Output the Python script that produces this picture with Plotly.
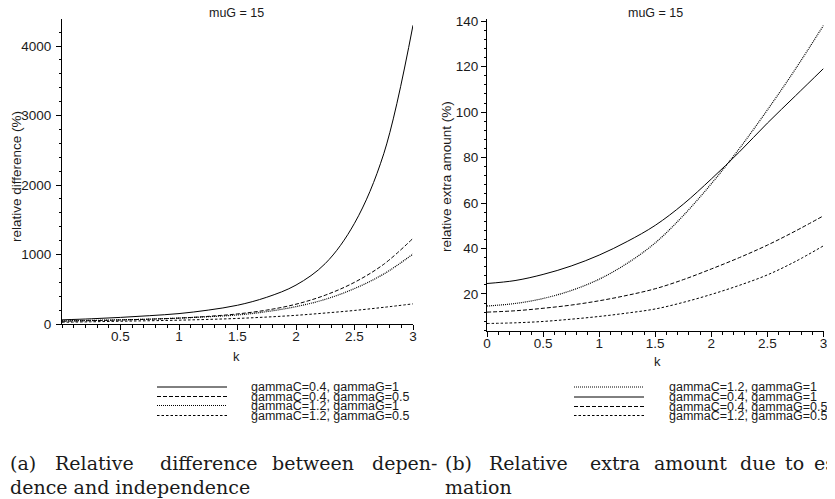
import plotly.graph_objects as go

# the page body keeps an 8px margin, so the figure is shrunk to fit the window
OFF = 8
W, H = 835 - OFF, 499 - OFF

k_grid = [0, 0.25, 0.5, 0.75, 1, 1.25, 1.5, 1.75, 2, 2.25, 2.5, 2.75, 3]

# left panel: relative difference between dependence and independence (%)
diff_c04_g1 = [60, 75, 95, 120, 150, 200, 270, 385, 560, 870, 1450, 2450, 4300]
diff_c04_g05 = [40, 48, 58, 70, 85, 110, 145, 200, 285, 415, 600, 860, 1233]
diff_c12_g1 = [45, 52, 60, 70, 85, 105, 130, 178, 250, 355, 510, 720, 1007]
diff_c12_g05 = [25, 32, 40, 47, 55, 66, 80, 100, 125, 158, 195, 240, 290]

# right panel: relative extra amount due to estimation (%)
extra_c12_g1 = [14.7, 15.8, 18.0, 21.5, 26.5, 33.5, 42.5, 54.5, 68.5, 84.0, 101.0, 119.0, 138.2]
extra_c04_g1 = [24.6, 25.9, 28.6, 32.3, 37.1, 43.1, 50.2, 59.5, 70.6, 82.5, 95.2, 107.2, 119.2]
extra_c04_g05 = [12.0, 12.6, 13.7, 15.1, 17.0, 19.4, 22.3, 26.3, 31.0, 36.0, 41.5, 47.7, 54.4]
extra_c12_g05 = [7.0, 7.3, 7.9, 8.9, 10.1, 11.6, 13.4, 16.3, 19.8, 23.8, 28.4, 34.3, 41.2]

left_ticks_x = [0.5, 1, 1.5, 2, 2.5, 3]
left_ticks_y = [0, 1000, 2000, 3000, 4000]
right_ticks_x = [0, 0.5, 1, 1.5, 2, 2.5, 3]
right_ticks_y = [20, 40, 60, 80, 100, 120, 140]

SOLID = "solid"
DASH = "4px,2px"
DOT = "1px,1px"
SDASH = "2.5px,2px"

left_series = [
    ("gammaC=0.4, gammaG=1", diff_c04_g1, SOLID),
    ("gammaC=0.4, gammaG=0.5", diff_c04_g05, DASH),
    ("gammaC=1.2, gammaG=1", diff_c12_g1, DOT),
    ("gammaC=1.2, gammaG=0.5", diff_c12_g05, SDASH),
]
right_series = [
    ("gammaC=1.2, gammaG=1", extra_c12_g1, DOT),
    ("gammaC=0.4, gammaG=1", extra_c04_g1, SOLID),
    ("gammaC=0.4, gammaG=0.5", extra_c04_g05, DASH),
    ("gammaC=1.2, gammaG=0.5", extra_c12_g05, SDASH),
]


def px(x):
    # screen pixel -> paper fraction
    return (x - OFF) / W


def py(y):
    return 1 - (y - OFF) / H


SANS = "Liberation Sans, Arial, sans-serif"
SERIF = "DejaVu Serif, serif"
INK = "#1a1a1a"

fig = go.Figure()

for name, vals, dash in left_series:
    fig.add_trace(go.Scatter(x=k_grid, y=vals, mode="lines", name=name,
                             line=dict(color="black", width=1.2 if dash == DOT else 1,
                                       dash=dash, shape="spline"),
                             xaxis="x", yaxis="y", showlegend=False))
for name, vals, dash in right_series:
    fig.add_trace(go.Scatter(x=k_grid, y=vals, mode="lines", name=name,
                             line=dict(color="black", width=1.2 if dash == DOT else 1,
                                       dash=dash, shape="spline"),
                             xaxis="x2", yaxis="y2", showlegend=False))

axis_common = dict(showline=True, linecolor="black", linewidth=1, showgrid=False,
                   zeroline=False, ticks="outside", ticklen=5, tickcolor="black",
                   automargin=False,
                   tickfont=dict(family=SANS, size=13.5, color=INK))
minor_x = dict(tickmode="linear", tick0=0, dtick=0.1, ticklen=2.5,
               ticks="outside", tickcolor="black")

fig.update_layout(
    width=W, height=H,
    margin=dict(l=0, r=0, t=0, b=0),
    plot_bgcolor="white", paper_bgcolor="white",
    xaxis=dict(domain=[px(62), px(413)], range=[0, 3], anchor="y",
               tickmode="array", tickvals=left_ticks_x, ticklabelstandoff=-5,
               minor=minor_x, **axis_common),
    yaxis=dict(domain=[py(324), py(19)], range=[0, 4390], anchor="x",
               tickmode="array", tickvals=left_ticks_y, ticklabelstandoff=2,
               minor=dict(tickmode="linear", tick0=0, dtick=200, ticklen=2.5,
                          ticks="outside", tickcolor="black"),
               **axis_common),
    xaxis2=dict(domain=[px(487), px(823.5)], range=[0, 3], anchor="y2",
                tickmode="array", tickvals=right_ticks_x, ticklabelstandoff=-5,
                minor=minor_x, **axis_common),
    yaxis2=dict(domain=[py(331), py(19)], range=[3.7, 141], anchor="x2",
                tickmode="array", tickvals=right_ticks_y,
                minor=dict(tickmode="linear", tick0=0, dtick=4, ticklen=2.5,
                           ticks="outside", tickcolor="black"),
                **axis_common),
)

ann = []


def text(x, y, s, size=12.5, family=SANS, anchor="center", angle=0):
    ann.append(dict(x=px(x), y=py(y), xref="paper", yref="paper", text=s,
                    showarrow=False, xanchor=anchor, yanchor="middle",
                    textangle=angle, font=dict(family=family, size=size, color=INK)))


# titles and axis labels
text(237, 13, "muG = 15")
text(655, 13, "muG = 15")
text(16, 177, "relative difference (%)", size=13.5, angle=-90)
text(446, 177, "relative extra amount (%)", size=13.5, angle=-90)
text(237, 356, "k", size=13)
text(657, 361, "k", size=13)

# hand-made legends
shapes = []
left_rows = [387, 396.5, 405.5, 415.5]
right_rows = [387, 397, 406.5, 415.5]
for (name, _, dash), yy in zip(left_series, left_rows):
    shapes.append(dict(type="line", xref="paper", yref="paper", x0=px(157), x1=px(227),
                       y0=py(yy), y1=py(yy), line=dict(color="black", width=1, dash=dash)))
    text(249, yy, name, size=12.5, anchor="left")
for (name, _, dash), yy in zip(right_series, right_rows):
    shapes.append(dict(type="line", xref="paper", yref="paper", x0=px(574), x1=px(644),
                       y0=py(yy), y1=py(yy), line=dict(color="black", width=1, dash=dash)))
    text(667, yy, name, size=12.5, anchor="left")

# captions (justified first lines placed word by word)
cap_a1 = [("(a)", 8), ("Relative", 53), ("difference", 158), ("between", 270), ("depen-", 370)]
cap_b1 = [("(b)", 443), ("Relative", 487), ("extra", 588), ("amount", 652), ("due", 738),
          ("to", 783), ("esti-", 812)]
for w, x in cap_a1:
    text(x, 463, w, size=19, family=SERIF, anchor="left")
for w, x in cap_b1:
    text(x, 463, w, size=19, family=SERIF, anchor="left")
text(8, 487, "dence and independence", size=19, family=SERIF, anchor="left")
text(443, 487, "mation", size=19, family=SERIF, anchor="left")

fig.update_layout(annotations=ann, shapes=shapes)

fig.write_html("out.html")
